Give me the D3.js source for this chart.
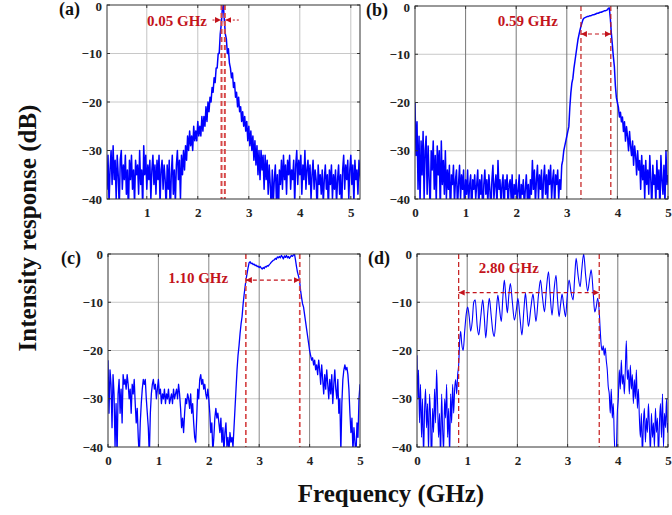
<!DOCTYPE html>
<html>
<head>
<meta charset="utf-8">
<script src="https://cdn.jsdelivr.net/npm/d3@7"></script>
<style>
body{margin:0;background:#fff}
svg{display:block}
text{font-family:"Liberation Serif","Times New Roman",serif;font-weight:bold}
</style>
</head>
<body>
<div id="chart"></div>
<script>
// Intensity response (dB) vs frequency (GHz), four filters

const panelNames = ['(a)', '(b)', '(c)', '(d)']
const yTicks = [0, -10, -20, -30, -40]
const xTicksA = [1, 2, 3, 4, 5]
const xTicks = [0, 1, 2, 3, 4, 5]

// (a), (b), (c) sampled every 0.02 GHz, one row = 0.2 GHz
const startA = 0.2, startB = 0, startC = 0, stepF = 0.02

const levelA = [
 -33,-38,-31,-41,-34,-30,-37,-29,-36,-32,
 -40,-31,-35,-42,-32,-30,-38,-33,-36,-31,
 -39,-34,-43,-32,-36,-31,-38,-34,-41,-32,
 -35,-33,-39,-30,-37,-34,-42,-29,-35,-31,
 -38,-33,-36,-32,-40,-34,-31,-37,-33,-39,
 -32,-36,-31,-41,-34,-32,-38,-33,-36,-42,
 -33,-38,-32,-44,-35,-31,-39,-34,-41,-33,
 -30,-36,-32,-40,-31,-35,-30,-34,-29,-32,
 -27,-30,-26,-29,-27,-30,-25,-28,-26,-28,
 -24,-27,-25,-27,-23,-26,-23,-25,-21,-24,
 -20,-22,-19,-20,-17,-18,-15,-16,-13,-13,
 -10,-10,-6,-4,-1,0,-3,-6,-7,-10,
 -9,-12,-13,-15,-14,-17,-16,-19,-18,-21,
 -19,-22,-21,-24,-22,-25,-23,-26,-24,-28,
 -25,-29,-26,-30,-27,-32,-28,-33,-29,-35,
 -30,-36,-30,-34,-31,-38,-31,-36,-32,-39,
 -33,-37,-42,-34,-41,-36,-33,-40,-35,-44,
 -34,-37,-32,-38,-31,-36,-33,-39,-32,-35,
 -31,-38,-34,-36,-32,-41,-33,-30,-37,-32,
 -35,-31,-39,-33,-36,-30,-38,-34,-32,-37,
 -33,-40,-35,-32,-38,-34,-36,-43,-33,-37,
 -35,-39,-34,-41,-36,-33,-38,-35,-42,-34,
 -37,-33,-40,-35,-38,-34,-41,-36,-33,-39,
 -35,-43,-34,-31,-38,-33,-36,-32,-40,-34,
 -31,-37,-33,-41,-32,-36,-34,-39,-32,-35,
 -37
]

const levelB = [
 -20,-31,-24,-38,-27,-41,-28,-35,-26,-40,
 -30,-27,-39,-29,-36,-42,-30,-34,-28,-38,
 -31,-41,-29,-35,-30,-43,-28,-37,-32,-39,
 -30,-40,-34,-38,-33,-44,-35,-37,-33,-41,
 -36,-34,-42,-37,-33,-40,-35,-38,-34,-43,
 -36,-39,-34,-41,-37,-35,-44,-36,-38,-35,
 -40,-37,-34,-42,-36,-39,-35,-45,-37,-34,
 -39,-36,-41,-35,-38,-43,-36,-33,-40,-37,
 -35,-42,-32,-38,-36,-41,-37,-35,-44,-36,
 -38,-35,-42,-37,-36,-40,-35,-43,-37,-39,
 -36,-41,-38,-35,-44,-37,-39,-36,-42,-38,
 -35,-40,-37,-43,-36,-39,-32,-38,-34,-41,
 -36,-33,-40,-35,-38,-34,-42,-36,-33,-39,
 -35,-41,-34,-37,-33,-40,-36,-34,-42,-35,
 -37,-34,-40,-36,-38,-33,-32,-30,-29,-28,
 -27,-26,-25,-21,-18,-16,-15,-13,-11.5,-10,
 -8.5,-7,-6,-5,-4.2,-3.5,-2.8,-2.5,-2.4,-2.3,
 -2.2,-2.2,-2.1,-2,-2,-1.9,-1.8,-1.8,-1.7,-1.6,
 -1.5,-1.5,-1.4,-1.3,-1.3,-1.2,-1.1,-1,-1,-0.9,
 -0.8,-0.5,-0.4,-2.5,-5.6,-8,-10.5,-12.5,-16.5,-19,
 -20,-21,-23,-22,-24,-23,-26,-24,-28,-25,
 -27,-30,-26,-29,-31,-28,-33,-29,-31,-35,
 -30,-34,-32,-38,-31,-36,-33,-40,-32,-37,
 -34,-39,-31,-36,-42,-33,-37,-35,-41,-32,
 -38,-34,-43,-31,-36,-39,-33,-41,-30,-37,
 -35
]

const levelC = [
 -22,-33,-24,-27,-36,-25,-29,-40,-31,-42,
 -29,-26,-33,-28,-35,-25,-27,-26,-28,-25,
 -27,-30,-28,-33,-27,-29,-26,-31,-35,-32,
 -38,-42,-35,-31,-28,-26,-27,-26,-30,-33,
 -36,-42,-33,-29,-27,-26,-28,-27,-30,-28,
 -26,-29,-28,-31,-29,-30,-28,-31,-29,-30,
 -28,-31,-30,-29,-31,-28,-30,-29,-28,-30,
 -27,-29,-32,-36,-34,-37,-33,-30,-31,-29,
 -30,-32,-29,-33,-31,-35,-38,-39,-34,-28,
 -30,-26,-25,-27,-26,-28,-27,-29,-30,-28,
 -30,-33,-37,-35,-41,-38,-34,-32,-34,-33,
 -35,-37,-34,-39,-36,-41,-37,-35,-40,-38,
 -41,-37,-39,-38,-40,-36,-32,-28,-24,-21,
 -19,-16.5,-14.5,-13,-10.5,-8.5,-6.8,-5.2,-4,-2.8,
 -1.8,-1.6,-2,-1.9,-2.2,-2.1,-2.4,-2.3,-2.6,-2.5,
 -2.8,-2.6,-2.9,-3.1,-2.8,-3,-2.6,-2.7,-2.4,-2.5,
 -2.2,-2,-1.7,-1.5,-1.3,-1.2,-0.9,-1.1,-0.6,-0.8,
 -0.5,-0.8,-0.3,-0.6,-1,-0.4,-0.7,-0.3,-0.8,-0.5,
 -0.9,-0.6,-0.3,-0.5,-0.2,0,-1.2,-2.6,-3.8,-4.6,
 -5.4,-7.5,-9,-10.3,-11,-12.5,-14,-15.5,-17,-18.5,
 -20,-21,-22,-21.5,-23,-22,-24,-23,-25,-22,
 -24,-27,-23,-26,-29,-25,-28,-24,-27,-30,
 -26,-29,-25,-31,-27,-24,-28,-30,-26,-33,
 -30,-41,-31,-26,-24,-23,-24,-23.5,-25,-28,
 -33,-37,-34,-41,-36,-39,-42,-35,-38,-30,
 -27
]

// (d) [GHz, dB]
const pointsD = [
 [0.00,-21],[0.02,-30],[0.03,-24],[0.05,-35],[0.07,-27],[0.09,-38],[0.11,-30],[0.13,-42],[0.15,-33],[0.17,-28],
 [0.19,-36],[0.21,-31],[0.23,-41],[0.25,-29],[0.27,-34],[0.29,-44],[0.31,-32],[0.33,-37],[0.35,-28],[0.37,-35],
 [0.39,-24],[0.41,-31],[0.43,-38],[0.45,-33],[0.47,-43],[0.49,-29],[0.51,-36],[0.53,-41],[0.55,-30],[0.57,-34],
 [0.59,-27],[0.61,-38],[0.63,-32],[0.65,-42],[0.67,-29],[0.69,-35],[0.71,-27],[0.73,-33],[0.75,-28],[0.77,-26],
 [0.79,-29],[0.81,-25],[0.83,-23],[0.85,-18],[0.87,-16],[0.89,-18.5],[0.92,-20],[0.95,-16],[0.98,-12.5],[1.01,-11],
 [1.04,-13],[1.07,-16],[1.10,-14],[1.13,-10],[1.16,-9.5],[1.20,-15],[1.23,-16.8],[1.27,-13],[1.31,-9.5],[1.34,-13],
 [1.37,-17.4],[1.41,-12],[1.44,-9.2],[1.48,-13],[1.51,-16],[1.54,-17.1],[1.58,-12],[1.61,-8.5],[1.64,-11],[1.68,-14],
 [1.71,-9],[1.74,-5.4],[1.77,-9],[1.80,-12.2],[1.83,-8.5],[1.86,-6.1],[1.90,-10],[1.94,-13.7],[1.98,-11.5],[2.01,-9.2],
 [2.05,-13],[2.09,-16.8],[2.13,-11.5],[2.16,-8.1],[2.19,-11.5],[2.22,-15],[2.27,-11],[2.31,-8.3],[2.34,-11],[2.37,-14],
 [2.42,-8.5],[2.46,-5.4],[2.50,-9],[2.54,-12],[2.58,-7],[2.62,-3.7],[2.65,-8],[2.69,-12.7],[2.73,-7.5],[2.77,-4.4],
 [2.80,-9.5],[2.83,-13],[2.86,-10.5],[2.89,-8.3],[2.92,-10.5],[2.96,-13],[2.99,-9],[3.03,-5.4],[3.07,-8],[3.11,-9.5],
 [3.14,-5],[3.17,-0.9],[3.21,-4.5],[3.25,-6.8],[3.28,-3.5],[3.32,0],[3.36,-4.5],[3.40,-7.7],[3.44,-5],[3.47,-3.3],
 [3.51,-8],[3.54,-12],[3.57,-11],[3.60,-9.2],[3.63,-12],[3.65,-15.8],[3.67,-19],[3.69,-20],[3.71,-19],[3.73,-21],
 [3.75,-19.5],[3.77,-22],[3.79,-24],[3.81,-27.5],[3.83,-29],[3.85,-33],[3.87,-28],[3.89,-34],[3.91,-31],[3.93,-38],
 [3.95,-42],[3.97,-41],[3.99,-33],[4.01,-30],[4.03,-24],[4.05,-28],[4.07,-22],[4.09,-27],[4.11,-25],[4.13,-29],
 [4.15,-24],[4.17,-18],[4.19,-26],[4.21,-24],[4.23,-29],[4.25,-23],[4.27,-28],[4.29,-25],[4.31,-31],[4.33,-26],
 [4.35,-30],[4.37,-24],[4.39,-32],[4.41,-28],[4.43,-34],[4.45,-38],[4.47,-33],[4.49,-42],[4.51,-35],[4.53,-32],
 [4.55,-39],[4.57,-34],[4.59,-37],[4.61,-31],[4.63,-36],[4.65,-41],[4.67,-33],[4.69,-38],[4.71,-35],[4.73,-40],
 [4.75,-32],[4.77,-37],[4.79,-34],[4.81,-42],[4.83,-35],[4.85,-31],[4.87,-38],[4.89,-29],[4.91,-40],[4.93,-33],
 [4.95,-36],[4.97,-30],[4.99,-37],[5.00,-35]
]

// bandwidth annotations
const bandLabels = ['0.05 GHz', '0.59 GHz', '1.10 GHz', '2.80 GHz']
const bandEdges = [[2.465, 2.53], [3.28, 3.87], [2.735, 3.805], [0.83, 3.63]]
const arrowLevels = [-3.1, -5.8, -5.4, -8]

const toPairs = (arr, start) => arr.map((v, i) => [start + i * stepF, v])

const red = '#c3141c'
const W = 672, H = 515

const svg = d3.select('#chart').append('svg').attr('width', W).attr('height', H)
const defs = svg.append('defs')

defs.append('marker')
    .attr('id', 'head')
    .attr('viewBox', '0 0 8 8')
    .attr('refX', 8).attr('refY', 4)
    .attr('markerWidth', 6).attr('markerHeight', 6)
    .attr('markerUnits', 'userSpaceOnUse')
    .attr('orient', 'auto-start-reverse')
  .append('path').attr('d', 'M0,0L8,4L0,8Z').attr('fill', red)

const panels = [
  {box: [107, 360, 5, 199], xDomain: [0.22, 5.18], xTicks: xTicksA, data: toPairs(levelA, startA),
   vgrid: '#c4c4c4', curve: d3.curveLinear, lw: 1.5, dash: {w: 2, c: '#d64848'}, outside: true,
   label: {x: 2.18, y: -4.3, anchor: 'end'}},
  {box: [415, 668, 6, 199], xDomain: [0, 5], xTicks: xTicks, data: toPairs(levelB, startB),
   vgrid: '#777', curve: d3.curveLinear, lw: 1.5, dash: {w: 1.2, c: '#c41a1a'}, outside: false,
   label: {x: 2.23, y: -4.2, anchor: 'middle'}},
  {box: [108, 360, 254, 447], xDomain: [0, 5], xTicks: xTicks, data: toPairs(levelC, startC),
   vgrid: '#888', curve: d3.curveLinear, lw: 1.3, dash: {w: 1.7, c: '#d64848'}, outside: false,
   label: {x: 1.79, y: -6, anchor: 'middle'}},
  {box: [417, 668, 254, 447], xDomain: [0, 5], xTicks: xTicks, data: pointsD,
   vgrid: '#777', curve: d3.curveMonotoneX, lw: 1.1, dash: {w: 1.2, c: '#c41a1a'}, outside: false,
   label: {x: 1.83, y: -4, anchor: 'middle'}}
]

panels.forEach((p, k) => {
  const [x0, x1, y0, y1] = p.box
  const x = d3.scaleLinear().domain(p.xDomain).range([x0, x1])
  const y = d3.scaleLinear().domain([-40, 0]).range([y1, y0])
  const g = svg.append('g')

  defs.append('clipPath').attr('id', 'clip' + k)
    .append('rect').attr('x', x0).attr('y', y0).attr('width', x1 - x0).attr('height', y1 - y0)

  // grid
  g.selectAll('.hg').data(yTicks.filter(v => v > -40 && v < 0)).enter()
    .append('line')
    .attr('x1', x0).attr('x2', x1)
    .attr('y1', d => y(d)).attr('y2', d => y(d))
    .attr('stroke', '#c8c8c8').attr('stroke-width', 1)
  g.selectAll('.vg').data(p.xTicks.filter(v => x(v) > x0 + 1 && x(v) < x1 - 1)).enter()
    .append('line')
    .attr('x1', d => x(d)).attr('x2', d => x(d))
    .attr('y1', y0).attr('y2', y1)
    .attr('stroke', p.vgrid).attr('stroke-width', 1)

  // trace
  const line = d3.line().x(d => x(d[0])).y(d => y(d[1])).curve(p.curve)
  g.append('path')
    .datum(p.data)
    .attr('d', line)
    .attr('fill', 'none')
    .attr('stroke', '#0000ff')
    .attr('stroke-width', p.lw)
    .attr('stroke-linejoin', 'round')
    .attr('clip-path', 'url(#clip' + k + ')')

  // bandwidth markers
  bandEdges[k].forEach(e => {
    g.append('line')
      .attr('x1', x(e)).attr('x2', x(e))
      .attr('y1', y(0)).attr('y2', y(-40))
      .attr('stroke', p.dash.c).attr('stroke-width', p.dash.w)
      .attr('stroke-dasharray', '5,3')
  })
  const ya = y(arrowLevels[k])
  if (p.outside) {
    g.append('line')
      .attr('x1', x(bandEdges[k][0]) - 9).attr('x2', x(bandEdges[k][0]) - 0.5)
      .attr('y1', ya).attr('y2', ya)
      .attr('stroke', red).attr('stroke-width', 1).attr('stroke-dasharray', '2,2')
      .attr('marker-end', 'url(#head)')
    g.append('line')
      .attr('x1', x(bandEdges[k][1]) + 14).attr('x2', x(bandEdges[k][1]) + 0.5)
      .attr('y1', ya).attr('y2', ya)
      .attr('stroke', red).attr('stroke-width', 1).attr('stroke-dasharray', '2,2')
      .attr('marker-end', 'url(#head)')
  } else {
    g.append('line')
      .attr('x1', x(bandEdges[k][0])).attr('x2', x(bandEdges[k][1]))
      .attr('y1', ya).attr('y2', ya)
      .attr('stroke', red).attr('stroke-width', 1.2).attr('stroke-dasharray', '4,3')
      .attr('marker-start', 'url(#head)').attr('marker-end', 'url(#head)')
  }
  g.append('text')
    .attr('x', x(p.label.x)).attr('y', y(p.label.y))
    .attr('text-anchor', p.label.anchor)
    .attr('fill', red).attr('font-size', 15)
    .text(bandLabels[k])

  // frame and small inward ticks
  g.append('rect')
    .attr('x', x0).attr('y', y0).attr('width', x1 - x0).attr('height', y1 - y0)
    .attr('fill', 'none').attr('stroke', '#333').attr('stroke-width', 1)
  yTicks.forEach(v => {
    g.append('line').attr('x1', x0).attr('x2', x0 + 3).attr('y1', y(v)).attr('y2', y(v)).attr('stroke', '#333')
    g.append('line').attr('x1', x1).attr('x2', x1 - 3).attr('y1', y(v)).attr('y2', y(v)).attr('stroke', '#333')
  })
  p.xTicks.forEach(v => {
    g.append('line').attr('x1', x(v)).attr('x2', x(v)).attr('y1', y1).attr('y2', y1 - 3).attr('stroke', '#333')
    g.append('line').attr('x1', x(v)).attr('x2', x(v)).attr('y1', y0).attr('y2', y0 + 3).attr('stroke', '#333')
  })

  // tick labels
  const yAxis = d3.axisLeft(y).tickValues(yTicks).tickSize(0).tickPadding(5).tickFormat(d3.format('d'))
  const gy = g.append('g').attr('transform', 'translate(' + x0 + ',0)').call(yAxis)
  const xAxis = d3.axisBottom(x).tickValues(p.xTicks).tickSize(0).tickPadding(9).tickFormat(d3.format('d'))
  const gx = g.append('g').attr('transform', 'translate(0,' + y1 + ')').call(xAxis)
  ;[gy, gx].forEach(a => {
    a.select('.domain').remove()
    a.selectAll('text').attr('font-size', 13).attr('fill', '#222')
      .style('font-family', '"Liberation Serif","Times New Roman",serif').style('font-weight', 'bold')
  })
  // keep the top "0" fully inside the page
  gy.selectAll('.tick').filter(d => d === 0 && y0 < 8).select('text').attr('dy', '0.45em')

  // panel letter
  g.append('text')
    .attr('x', x0 - 27).attr('y', y0 + 10)
    .attr('text-anchor', 'end')
    .attr('font-size', 18).attr('fill', '#111')
    .text(panelNames[k])
})

svg.append('text')
  .attr('x', 391).attr('y', 502)
  .attr('text-anchor', 'middle')
  .attr('font-size', 25).attr('fill', '#111')
  .text('Frequency (GHz)')

svg.append('text')
  .attr('transform', 'translate(36,228) rotate(-90)')
  .attr('text-anchor', 'middle')
  .attr('font-size', 25).attr('fill', '#111')
  .text('Intensity response (dB)')
</script>
</body>
</html>
